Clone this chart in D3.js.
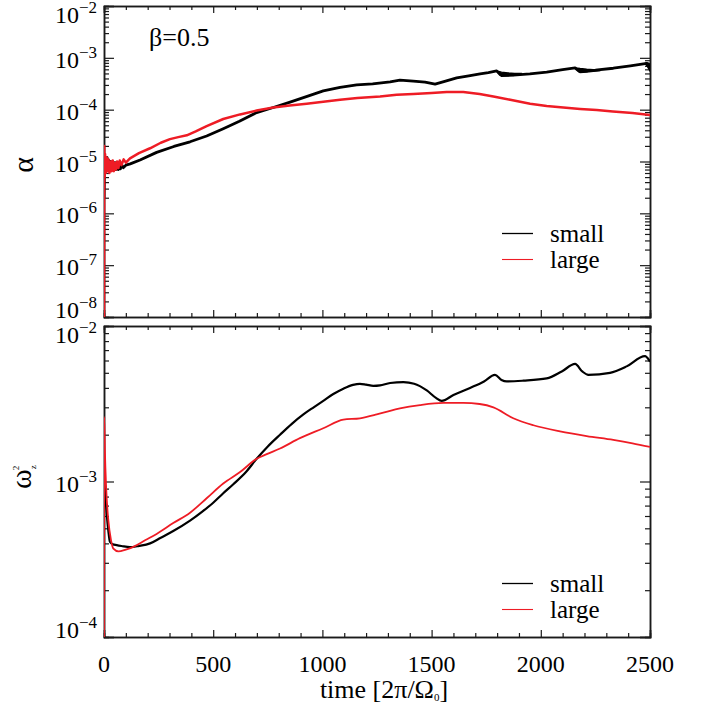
<!DOCTYPE html>
<html>
<head>
<meta charset="utf-8">
<script src="https://cdn.jsdelivr.net/npm/d3@7"></script>
<style>
  body { margin: 0; background: #fff; }
</style>
</head>
<body>
<div id="chart"></div>
<script>
// data

// top panel, alpha, "small"
const tAlphaSmall = [0, 2, 4, 6, 10, 14, 18, 22, 26, 30, 35, 40, 45, 50, 55, 60, 65, 70, 75, 80, 88, 100, 120, 165, 241, 320, 394, 470, 546, 620, 699, 775, 852, 930, 1004, 1081, 1157, 1230, 1310, 1355, 1416, 1470, 1516, 1560, 1615, 1670, 1722, 1760, 1798, 1815, 1874, 1950, 2027, 2100, 2157, 2175, 2250, 2332, 2410, 2485, 2492, 2500]
const alphaSmall = [2e-6, 1.2e-5, 7e-6, 1.1e-5, 8e-6, 1.2e-5, 7.5e-6, 1.05e-5, 7e-6, 1e-5, 7.5e-6, 9.5e-6, 7e-6, 9.5e-6, 7e-6, 9e-6, 7e-6, 9e-6, 7.2e-6, 8.8e-6, 7.6e-6, 8.5e-6, 9e-6, 1.07e-5, 1.5e-5, 1.95e-5, 2.4e-5, 3.1e-5, 4.3e-5, 6e-5, 8.8e-5, 1.1e-4, 1.4e-4, 1.8e-4, 2.3e-4, 2.7e-4, 3.0e-4, 3.15e-4, 3.45e-4, 3.7e-4, 3.55e-4, 3.4e-4, 3.1e-4, 3.5e-4, 4.1e-4, 4.5e-4, 4.9e-4, 5.2e-4, 5.6e-4, 4.7e-4, 4.65e-4, 4.9e-4, 5.3e-4, 5.9e-4, 6.4e-4, 5.5e-4, 5.8e-4, 6.3e-4, 7e-4, 7.8e-4, 7.5e-4, 6.2e-4]
// thick (noisy) stretches of the black curve
const tAlphaBand = [1798, 1820, 1850, 1880, 1910, null, 2157, 2180, 2210, 2240, 2270, null, 2480, 2490, 2500]
const alphaBandHi = [5.6e-4, 5.3e-4, 5.1e-4, 5.0e-4, 5.0e-4, null, 6.4e-4, 6.2e-4, 6.0e-4, 5.9e-4, 5.9e-4, null, 7.8e-4, 7.9e-4, 7.2e-4]
const alphaBandLo = [5.5e-4, 4.4e-4, 4.45e-4, 4.6e-4, 4.8e-4, null, 6.3e-4, 5.2e-4, 5.3e-4, 5.5e-4, 5.7e-4, null, 7.6e-4, 6.6e-4, 5.6e-4]

// top panel, alpha, "large"
const tAlphaLarge = [0, 1, 3, 5, 8, 12, 16, 20, 25, 30, 35, 40, 45, 50, 55, 60, 66, 72, 80, 90, 100, 119, 160, 211, 260, 302, 340, 379, 420, 470, 546, 623, 699, 775, 850, 928, 1004, 1081, 1160, 1264, 1340, 1416, 1500, 1569, 1645, 1720, 1783, 1860, 1951, 2027, 2103, 2180, 2256, 2330, 2420, 2500]
const alphaLarge = [1e-8, 2e-5, 5e-6, 1.4e-5, 6e-6, 1.2e-5, 6.5e-6, 1.1e-5, 6e-6, 1e-5, 6.5e-6, 1.05e-5, 6.5e-6, 9.5e-6, 7e-6, 1e-5, 7.5e-6, 1.05e-5, 8.5e-6, 1.1e-5, 9.5e-6, 1.15e-5, 1.45e-5, 1.8e-5, 2.3e-5, 2.7e-5, 2.95e-5, 3.2e-5, 3.8e-5, 4.8e-5, 6.6e-5, 8.1e-5, 9.6e-5, 1.1e-4, 1.2e-4, 1.3e-4, 1.42e-4, 1.56e-4, 1.68e-4, 1.8e-4, 1.93e-4, 2.0e-4, 2.1e-4, 2.2e-4, 2.2e-4, 2.0e-4, 1.8e-4, 1.55e-4, 1.3e-4, 1.18e-4, 1.1e-4, 1.03e-4, 9.8e-5, 9.2e-5, 8.6e-5, 7.9e-5]

// bottom panel, omega_z^2, "small"
const tOmegaSmall = [0, 3, 8, 12, 20, 27, 40, 58, 80, 119, 160, 211, 260, 317, 394, 450, 500, 546, 592, 650, 699, 750, 806, 860, 913, 960, 1004, 1050, 1096, 1140, 1172, 1200, 1233, 1264, 1310, 1371, 1420, 1478, 1520, 1546, 1600, 1676, 1740, 1790, 1820, 1844, 1920, 2027, 2096, 2157, 2190, 2218, 2317, 2393, 2477, 2500]
const omegaSmall = [1.0e-3, 9e-4, 7.5e-4, 6.3e-4, 4.8e-4, 4.1e-4, 3.95e-4, 3.9e-4, 3.85e-4, 3.78e-4, 3.85e-4, 4.0e-4, 4.35e-4, 4.8e-4, 5.6e-4, 6.4e-4, 7.3e-4, 8.4e-4, 9.6e-4, 1.15e-3, 1.4e-3, 1.68e-3, 2.0e-3, 2.35e-3, 2.7e-3, 3.0e-3, 3.3e-3, 3.65e-3, 3.95e-3, 4.18e-3, 4.25e-3, 4.2e-3, 4.12e-3, 4.15e-3, 4.3e-3, 4.35e-3, 4.25e-3, 3.85e-3, 3.45e-3, 3.3e-3, 3.6e-3, 4.0e-3, 4.4e-3, 4.85e-3, 4.5e-3, 4.4e-3, 4.45e-3, 4.6e-3, 5.1e-3, 5.7e-3, 5.1e-3, 4.85e-3, 5.0e-3, 5.5e-3, 6.4e-3, 5.9e-3]

// bottom panel, omega_z^2, "large"
const tOmegaLarge = [0, 1, 4, 10, 20, 32, 43, 66, 100, 134, 190, 241, 317, 394, 470, 546, 623, 699, 745, 806, 897, 1004, 1096, 1172, 1249, 1310, 1355, 1447, 1554, 1645, 1720, 1783, 1874, 1966, 2088, 2210, 2332, 2420, 2500]
const omegaLarge = [1e-4, 2.6e-3, 1.6e-3, 9e-4, 5.6e-4, 4.2e-4, 3.7e-4, 3.55e-4, 3.65e-4, 3.8e-4, 4.2e-4, 4.6e-4, 5.4e-4, 6.3e-4, 7.8e-4, 9.7e-4, 1.15e-3, 1.4e-3, 1.5e-3, 1.63e-3, 1.9e-3, 2.2e-3, 2.5e-3, 2.55e-3, 2.7e-3, 2.85e-3, 2.95e-3, 3.1e-3, 3.2e-3, 3.2e-3, 3.15e-3, 3.0e-3, 2.55e-3, 2.3e-3, 2.1e-3, 1.96e-3, 1.85e-3, 1.76e-3, 1.67e-3]

const xTicks = [0, 500, 1000, 1500, 2000, 2500]
const alphaTicks = [1e-8, 1e-7, 1e-6, 1e-5, 1e-4, 1e-3, 1e-2]
const omegaTicks = [1e-4, 1e-3, 1e-2]
const seriesNames = ['small', 'large']

const RED = '#ee1c25'
const AXIS = '#1a1a1a'
const SERIF = "'Liberation Serif', 'Times New Roman', serif"

const svg = d3.select('#chart').append('svg')
  .attr('width', 709)
  .attr('height', 711)
  .attr('font-family', SERIF)

const x = d3.scaleLinear().domain([0, 2500]).range([104, 650])
const yA = d3.scaleLog().domain([1e-8, 1e-2]).range([317, 6])
const yW = d3.scaleLog().domain([1e-4, 1e-2]).range([637, 326])

const minorX = d3.range(0, 2501, 100).filter(d => d % 500 !== 0)

// box with inward ticks on all four sides
function frame (y, majors) {
  const top = y.range()[1]
  const bottom = y.range()[0]
  const minorY = y.ticks().filter(v => !majors.some(m => Math.abs(m - v) / m < 1e-6))

  const add = (axis, tx, ty) => svg.append('g')
    .attr('transform', `translate(${tx},${ty})`)
    .call(axis)
    .call(g => g.selectAll('line').attr('stroke', AXIS).attr('stroke-width', 1.2))
    .call(g => g.select('.domain').attr('stroke', AXIS).attr('stroke-width', 1.5))

  // x minor / major
  add(d3.axisBottom(x).tickValues(minorX).tickSize(-4).tickFormat(''), 0, bottom)
  add(d3.axisBottom(x).tickValues(xTicks).tickSize(-7).tickFormat(''), 0, bottom)
  add(d3.axisTop(x).tickValues(minorX).tickSize(-4).tickFormat(''), 0, top)
  add(d3.axisTop(x).tickValues(xTicks).tickSize(-7).tickFormat(''), 0, top)
  // y minor / major
  add(d3.axisLeft(y).tickValues(minorY).tickSize(-5).tickFormat(''), x.range()[0], 0)
  add(d3.axisLeft(y).tickValues(majors).tickSize(-10).tickFormat(''), x.range()[0], 0)
  add(d3.axisRight(y).tickValues(minorY).tickSize(-5).tickFormat(''), x.range()[1], 0)
  add(d3.axisRight(y).tickValues(majors).tickSize(-10).tickFormat(''), x.range()[1], 0)

  // 10^n labels (end labels nudged inside like IDL does)
  const lo = d3.min(majors)
  const hi = d3.max(majors)
  const lab = svg.append('g').selectAll('text')
    .data(majors)
    .join('text')
    .attr('x', 97)
    .attr('y', d => y(d) + (d === hi ? 17 : d === lo ? 1 : 10))
    .attr('text-anchor', 'end')
    .attr('font-family', SERIF)
    .attr('font-size', 24)
    .attr('fill', '#000')
  lab.append('tspan').text('10')
  lab.append('tspan')
    .attr('font-size', 17)
    .attr('dy', -10)
    .text(d => '\u2212' + Math.round(-Math.log10(d)))
}

frame(yA, alphaTicks)
frame(yW, omegaTicks)

// curves
const lineA = d3.line()
  .x(d => x(d[0]))
  .y(d => yA(d[1]))
const lineW = d3.line()
  .x(d => x(d[0]))
  .y(d => yW(d[1]))
  .curve(d3.curveMonotoneX)

svg.append('clipPath').attr('id', 'clipA')
  .append('rect').attr('x', 104).attr('y', 6).attr('width', 546).attr('height', 311)
svg.append('clipPath').attr('id', 'clipW')
  .append('rect').attr('x', 104).attr('y', 326).attr('width', 546).attr('height', 311)

const gA = svg.append('g').attr('clip-path', 'url(#clipA)')
const gW = svg.append('g').attr('clip-path', 'url(#clipW)')

gA.append('path')
  .datum(d3.zip(tAlphaSmall, alphaSmall))
  .attr('fill', 'none')
  .attr('stroke', '#000')
  .attr('stroke-width', 2.8)
  .attr('stroke-linejoin', 'round')
  .attr('d', lineA)

const band = d3.area()
  .defined((d, i) => tAlphaBand[i] != null)
  .x((d, i) => x(tAlphaBand[i]))
  .y0((d, i) => yA(alphaBandLo[i]))
  .y1((d, i) => yA(alphaBandHi[i]))
gA.append('path')
  .datum(tAlphaBand)
  .attr('fill', '#000')
  .attr('stroke', '#000')
  .attr('stroke-width', 1.5)
  .attr('d', band)

gA.append('path')
  .datum(d3.zip(tAlphaLarge, alphaLarge))
  .attr('fill', 'none')
  .attr('stroke', RED)
  .attr('stroke-width', 2.5)
  .attr('stroke-linejoin', 'round')
  .attr('d', lineA)

gW.append('path')
  .datum(d3.zip(tOmegaSmall, omegaSmall))
  .attr('fill', 'none')
  .attr('stroke', '#000')
  .attr('stroke-width', 2.2)
  .attr('d', lineW)

gW.append('path')
  .datum(d3.zip(tOmegaLarge, omegaLarge))
  .attr('fill', 'none')
  .attr('stroke', RED)
  .attr('stroke-width', 1.8)
  .attr('d', lineW)

// legends
function legend (y0) {
  const g = svg.append('g')
  seriesNames.forEach((name, i) => {
    const y = y0 + i * 26
    g.append('line')
      .attr('x1', 502).attr('x2', 533)
      .attr('y1', y).attr('y2', y)
      .attr('stroke', i === 0 ? '#000' : RED)
      .attr('stroke-width', i === 0 ? 1.3 : 1.1)
    g.append('text')
      .attr('x', 550).attr('y', y + 8)
      .attr('font-family', SERIF)
      .attr('font-size', 25)
      .text(name)
  })
}
legend(233.5)
legend(583.5)

// x tick labels and titles
svg.append('g').selectAll('text')
  .data(xTicks)
  .join('text')
  .attr('x', d => x(d))
  .attr('y', 672)
  .attr('text-anchor', 'middle')
  .attr('font-family', SERIF)
  .attr('font-size', 24)
  .text(d => d)

const xt = svg.append('text')
  .attr('x', 384).attr('y', 698)
  .attr('text-anchor', 'middle')
  .attr('font-family', SERIF)
  .attr('font-size', 26)
xt.append('tspan').text('time [2\u03c0/\u03a9')
xt.append('tspan').attr('font-size', 11).attr('dy', 3).text('0')
xt.append('tspan').attr('dy', -3).text(']')

svg.append('text')
  .attr('transform', 'translate(33,165) rotate(-90)')
  .attr('text-anchor', 'middle')
  .attr('font-family', SERIF)
  .attr('font-size', 30)
  .text('\u03b1')

const wt = svg.append('text')
  .attr('transform', 'translate(31,489) rotate(-90)')
  .attr('font-family', SERIF)
  .attr('font-size', 30)
wt.append('tspan').text('\u03c9')
wt.append('tspan').attr('font-size', 9).attr('dy', 5).text('z')
wt.append('tspan').attr('font-size', 9).attr('dx', -5).attr('dy', -17).text('2')

svg.append('text')
  .attr('x', 149).attr('y', 46)
  .attr('font-family', SERIF)
  .attr('font-size', 26)
  .text('\u03b2=0.5')
</script>
</body>
</html>
